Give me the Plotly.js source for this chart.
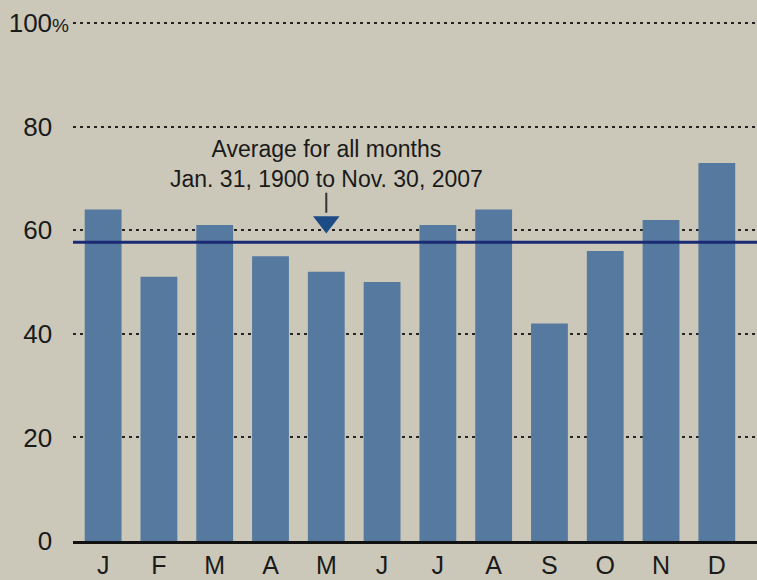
<!DOCTYPE html>
<html>
<head>
<meta charset="utf-8">
<script src="https://cdn.plot.ly/plotly-3.0.1.min.js"></script>
<style>html,body{margin:0;padding:0;background:#cbc8b9;}</style>
</head>
<body>
<div id="chart" style="width:757px;height:580px;"></div>
<script>
// Data
const months = ['J','F','M','A','M','J','J','A','S','O','N','D'];
const values = [64, 51, 61, 55, 52, 50, 61, 64, 42, 56, 62, 73];
const averageAll = 57.7;
const yTickVals = [0, 20, 40, 60, 80, 100];
const yTickLabels = ['0','20','40','60','80','100'];
const annotationText = 'Average for all months<br>Jan. 31, 1900 to Nov. 30, 2007';
const pointerMonthIndex = 4;
const pointerValue = 61.6;

const idx = months.map((m, i) => i);
const pctSpan = (visible) => '<span style="font-size:19px;' + (visible ? '' : 'color:rgba(0,0,0,0);') + '">%</span>';
const yTickText = yTickLabels.map((t, i) => t + pctSpan(i === yTickLabels.length - 1));

const FONT = 'Liberation Sans, Arial, sans-serif';

const traces = [
  {
    type: 'bar',
    x: idx,
    y: values,
    width: 0.66,
    marker: {color: '#56799f', line: {width: 0}},
    hoverinfo: 'x+y'
  },
  {
    type: 'scatter',
    mode: 'markers',
    x: [pointerMonthIndex],
    y: [pointerValue],
    marker: {symbol: 'triangle-down', size: 23, color: '#1d4b85', line: {width: 0}},
    hoverinfo: 'skip'
  }
];

const layout = {
  width: 757,
  height: 580,
  margin: {l: 73, r: 0, t: 21, b: 39},
  paper_bgcolor: '#cbc8b9',
  plot_bgcolor: '#cbc8b9',
  showlegend: false,
  font: {family: FONT, color: '#1a1a1a'},
  xaxis: {
    range: [-0.54, 11.72],
    tickvals: idx,
    ticktext: months,
    tickfont: {size: 25, family: FONT, color: '#1a1a1a'},
    showgrid: false,
    zeroline: false,
    showline: true,
    linecolor: '#111111',
    linewidth: 2.5,
    ticks: '',
    fixedrange: true
  },
  yaxis: {
    range: [0, 100.4],
    tickvals: yTickVals,
    ticktext: yTickText,
    tickfont: {size: 26, family: FONT, color: '#1a1a1a'},
    showgrid: true,
    gridcolor: '#222222',
    gridwidth: 2,
    griddash: '3px,4px',
    zeroline: false,
    showline: false,
    ticks: '',
    ticklabelstandoff: 3,
    fixedrange: true
  },
  shapes: [
    {
      type: 'line',
      xref: 'paper', yref: 'y',
      x0: 0, x1: 1,
      y0: averageAll, y1: averageAll,
      line: {color: '#1a2a74', width: 3},
      layer: 'above'
    }
  ],
  annotations: [
    {
      x: pointerMonthIndex,
      y: 63.4,
      xref: 'x', yref: 'y',
      text: annotationText,
      showarrow: true,
      arrowhead: 0,
      arrowwidth: 2,
      arrowcolor: '#333333',
      ax: 0,
      ay: -48.5,
      standoff: 0,
      borderpad: 0,
      align: 'center',
      font: {size: 23, family: FONT, color: '#1a1a1a'}
    }
  ],
  bargap: 0.34
};

Plotly.newPlot('chart', traces, layout, {displayModeBar: false, staticPlot: true});
</script>
</body>
</html>
